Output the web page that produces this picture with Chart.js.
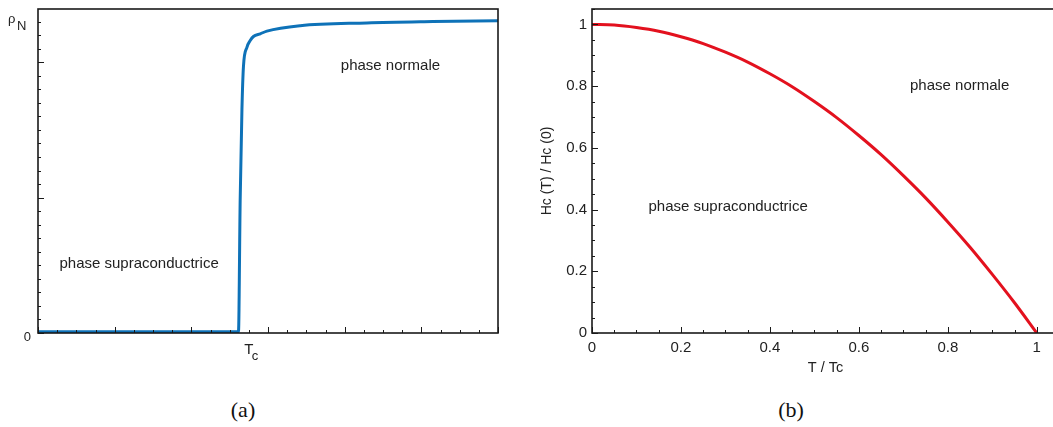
<!DOCTYPE html>
<html>
<head>
<meta charset="utf-8">
<script src="https://cdn.jsdelivr.net/npm/chart.js@4"></script>
<style>
body { margin: 0; width: 1053px; height: 427px; overflow: hidden; background: #fff; position: relative; }
#boiteA { position: absolute; left: 0; top: 0; width: 520px; height: 380px; }
#boiteB { position: absolute; left: 530px; top: 0; width: 540px; height: 380px; }
.legende { position: absolute; top: 397px; font-family: "Liberation Serif", serif; font-size: 22px; color: #111; transform: translateX(-50%); }
</style>
</head>
<body>
<div id="boiteA"><canvas id="graphe-a"></canvas></div>
<div id="boiteB"><canvas id="graphe-b"></canvas></div>
<div class="legende" style="left:243px">(a)</div>
<div class="legende" style="left:791px">(b)</div>
<script>
// (a) resistivite en fonction de la temperature (unites arbitraires)
const tempA = [0, 1, 2, 2.615, 2.637, 2.66, 2.68, 2.725, 2.768, 2.81, 2.90, 2.986, 3.42, 4.29, 5.15, 6.0];
const rhoA  = [0.01, 0.01, 0.01, 0.01, 0.98, 1.65, 1.97, 2.11, 2.16, 2.19, 2.21, 2.23, 2.27, 2.29, 2.30, 2.307];
const valeurTc = 2.75;
const valeurRhoN = 2.3;

// (b) champ critique reduit Hc(T)/Hc(0) en fonction de T/Tc
const tRed  = [0, 0.05, 0.1, 0.15, 0.2, 0.25, 0.3, 0.35, 0.4, 0.45, 0.5, 0.55, 0.6, 0.65, 0.7, 0.75, 0.8, 0.85, 0.9, 0.95, 1];
const hcRed = [1, 0.998, 0.99, 0.978, 0.96, 0.938, 0.91, 0.878, 0.84, 0.798, 0.75, 0.698, 0.64, 0.578, 0.51, 0.438, 0.36, 0.278, 0.19, 0.098, 0];
const graduationsB = ['0', '0.2', '0.4', '0.6', '0.8', '1'];

const police = '"Liberation Sans", Arial, sans-serif';
const couleurTexte = '#222';

// cadre, graduations vers l'interieur et textes dans le graphe
function creerCadre(majeurX, majeurY, notes, extra) {
    return {
        id: 'cadre',
        afterDatasetsDraw(chart) {
            const ctx = chart.ctx;
            const a = chart.chartArea;
            const sx = chart.scales.x;
            const sy = chart.scales.y;
            ctx.save();
            ctx.strokeStyle = '#1a1a1a';
            ctx.lineWidth = 1;
            sx.ticks.forEach(t => {
                const px = Math.round(sx.getPixelForValue(t.value)) + 0.5;
                const l = majeurX(t.value) ? 6 : 3;
                ctx.beginPath();
                ctx.moveTo(px, a.bottom);
                ctx.lineTo(px, a.bottom - l);
                ctx.stroke();
            });
            sy.ticks.forEach(t => {
                const py = Math.round(sy.getPixelForValue(t.value)) + 0.5;
                const l = majeurY(t.value) ? 6 : 3;
                ctx.beginPath();
                ctx.moveTo(a.left, py);
                ctx.lineTo(a.left + l, py);
                ctx.stroke();
            });
            ctx.lineWidth = 1.6;
            ctx.strokeRect(a.left, a.top, a.right - a.left, a.bottom - a.top);

            ctx.fillStyle = couleurTexte;
            ctx.font = '15px ' + police;
            ctx.textBaseline = 'middle';
            ctx.textAlign = 'left';
            notes.forEach(n => {
                ctx.fillText(n.texte, sx.getPixelForValue(n.x), sy.getPixelForValue(n.y));
            });
            if (extra) extra(ctx, a, sx, sy);
            ctx.restore();
        }
    };
}

const estEntier = v => Math.abs(v - Math.round(v)) < 1e-6;

// taille fixe des axes, sans marge due aux etiquettes
function fixer(taille, horizontal) {
    return s => {
        if (horizontal) s.height = taille; else s.width = taille;
        s.paddingTop = 0;
        s.paddingBottom = 0;
        s.paddingLeft = 0;
        s.paddingRight = 0;
    };
}

// etiquettes speciales du graphe (a) : 0, rho_N et T_c
function etiquettesA(ctx, a, sx, sy) {
    ctx.textBaseline = 'alphabetic';
    ctx.font = '13px ' + police;
    ctx.textAlign = 'right';
    ctx.fillText('0', a.left - 7, sy.getPixelForValue(0) + 8);
    const yN = sy.getPixelForValue(valeurRhoN);
    ctx.textAlign = 'left';
    ctx.fillText('ρ', 8, yN + 1.5);
    ctx.fillText('N', 17, yN + 8);
    const xT = sx.getPixelForValue(valeurTc);
    ctx.font = '15px ' + police;
    ctx.textAlign = 'center';
    ctx.fillText('T', xT, 354);
    ctx.font = '13px ' + police;
    ctx.textAlign = 'left';
    ctx.fillText('c', xT + 3, 360);
}

new Chart(document.getElementById('graphe-a'), {
    type: 'line',
    data: {
        datasets: [{
            data: tempA.map((t, i) => ({ x: t, y: rhoA[i] })),
            borderColor: '#0e72b8',
            borderWidth: 3,
            pointRadius: 0,
            cubicInterpolationMode: 'monotone',
            fill: false
        }]
    },
    options: {
        responsive: true,
        maintainAspectRatio: false,
        animation: false,
        layout: { padding: { top: 9, right: 22, left: 0, bottom: 0 } },
        plugins: {
            legend: { display: false },
            tooltip: { enabled: false }
        },
        scales: {
            x: {
                type: 'linear', min: 0, max: 6,
                grid: { display: false, drawTicks: false }, border: { display: false },
                ticks: { display: false, stepSize: 0.25, autoSkip: false, includeBounds: false },
                afterFit: fixer(47, true)
            },
            y: {
                type: 'linear', min: 0, max: 2.393,
                grid: { display: false, drawTicks: false }, border: { display: false },
                ticks: { display: false, stepSize: 0.1, autoSkip: false, includeBounds: false },
                afterFit: fixer(38, false)
            }
        }
    },
    plugins: [creerCadre(estEntier, estEntier, [
        { texte: 'phase supraconductrice', x: 0.28, y: 0.51 },
        { texte: 'phase normale', x: 3.95, y: 1.97 }
    ], etiquettesA)]
});

const majeurB = v => Math.round(v * 20) % 4 === 0;
const texteB = v => {
    const k = Math.round(v * 20);
    return (k % 4 === 0 && k <= 20) ? graduationsB[k / 4] : '';
};

new Chart(document.getElementById('graphe-b'), {
    type: 'line',
    data: {
        datasets: [{
            data: tRed.map((t, i) => ({ x: t, y: hcRed[i] })),
            borderColor: '#e3111e',
            borderWidth: 3,
            pointRadius: 0,
            cubicInterpolationMode: 'monotone',
            fill: false
        }]
    },
    options: {
        responsive: true,
        maintainAspectRatio: false,
        animation: false,
        layout: { padding: { top: 9, right: 11, left: 0, bottom: 0 } },
        plugins: {
            legend: { display: false },
            tooltip: { enabled: false }
        },
        scales: {
            x: {
                type: 'linear', min: 0, max: 1.05,
                grid: { display: false, drawTicks: false }, border: { display: false },
                ticks: {
                    stepSize: 0.05, autoSkip: false, includeBounds: false, maxRotation: 0,
                    padding: 6, color: couleurTexte, font: { family: police, size: 15 },
                    callback: texteB
                },
                title: { display: true, text: 'T / Tc', color: couleurTexte, font: { family: police, size: 14.5 }, padding: { top: 0, bottom: 3 } },
                afterFit: fixer(47, true)
            },
            y: {
                type: 'linear', min: 0, max: 1.05,
                grid: { display: false, drawTicks: false }, border: { display: false },
                ticks: {
                    stepSize: 0.05, autoSkip: false, includeBounds: false,
                    padding: 5, color: couleurTexte, font: { family: police, size: 15 },
                    callback: texteB
                },
                title: { display: true, text: 'Hc (T) / Hc (0)', color: couleurTexte, font: { family: police, size: 14 }, padding: { top: 9, bottom: 0 } },
                afterFit: fixer(62, false)
            }
        }
    },
    plugins: [creerCadre(majeurB, majeurB, [
        { texte: 'phase supraconductrice', x: 0.127, y: 0.408 },
        { texte: 'phase normale', x: 0.715, y: 0.80 }
    ], null)]
});
</script>
</body>
</html>
